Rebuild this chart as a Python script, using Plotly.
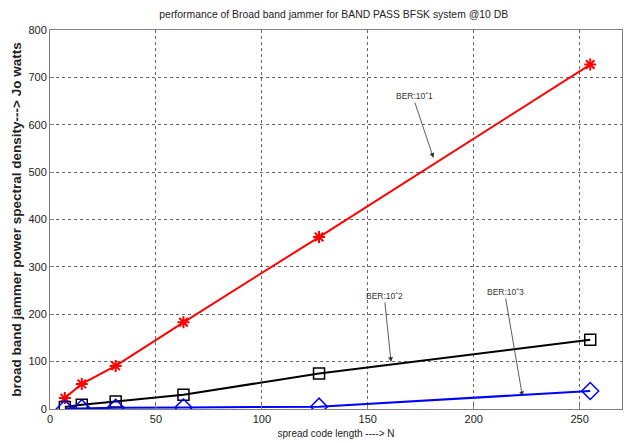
import plotly.graph_objects as go

code_len = [7, 15, 31, 63, 127, 255]
ber_1e1 = [23, 53, 91, 183, 363, 727]
ber_1e2 = [4, 9, 16, 30, 75, 146]
ber_1e3 = [0.7, 1.5, 2.5, 3, 5, 38]

FONT = "Liberation Sans, Arial, sans-serif"

fig = go.Figure()
fig.add_trace(go.Scatter(x=code_len, y=ber_1e1, mode="lines+markers",
                         line=dict(color="#ff0000", width=2),
                         marker=dict(symbol="asterisk-open", size=10,
                                     line=dict(color="#ff0000", width=2))))
fig.add_trace(go.Scatter(x=code_len, y=ber_1e2, mode="lines+markers",
                         line=dict(color="#000000", width=2),
                         marker=dict(symbol="square-open", size=11, color="#000000",
                                     line=dict(color="#000000", width=1.5))))
fig.add_trace(go.Scatter(x=code_len, y=ber_1e3, mode="lines+markers",
                         line=dict(color="#0000ff", width=2),
                         marker=dict(symbol="diamond-open", size=13, color="#0000ff",
                                     line=dict(color="#0000ff", width=1.5))))

ann = [("BER:10ˆ1", 172, 650, 181, 530),
       ("BER:10ˆ2", 158, 228, 161, 99),
       ("BER:10ˆ3", 215, 236, 223, 27)]
for txt, tx, ty, hx, hy in ann:
    fig.add_annotation(x=hx, y=hy, ax=tx, ay=ty, axref="x", ayref="y",
                       xref="x", yref="y", text="", showarrow=True,
                       arrowhead=2, arrowsize=1.2, arrowwidth=0.8, arrowcolor="#333333")
    fig.add_annotation(x=tx, y=ty, xref="x", yref="y", text=txt, showarrow=False,
                       font=dict(size=8.5, color="#333333", family=FONT),
                       yanchor="bottom", yshift=-2)

fig.update_layout(
    width=624, height=435,
    margin=dict(l=42, r=10, t=22, b=34),
    paper_bgcolor="white", plot_bgcolor="white",
    showlegend=False,
    font=dict(family=FONT, size=11, color="#222222"),
    title=dict(text="performance of Broad band jammer for BAND PASS BFSK system @10 DB",
               x=0.522, xanchor="center", y=0.985, yanchor="middle",
               font=dict(size=10.4, family=FONT, color="#222222")),
)
fig.update_xaxes(range=[0, 270], tickvals=[0, 50, 100, 150, 200, 250],
                 showgrid=True, gridcolor="#666666", griddash="dot", gridwidth=1,
                 showline=True, linecolor="#808080", linewidth=1, mirror=True,
                 ticks="inside", ticklen=4, tickcolor="#808080", zeroline=False,
                 automargin=False,
                 tickfont=dict(size=11, family=FONT),
                 title=dict(text="spread code length ----> N", standoff=5,
                            font=dict(size=10, family=FONT)))
fig.update_yaxes(range=[0, 800], tickvals=list(range(0, 801, 100)),
                 showgrid=True, gridcolor="#666666", griddash="dot", gridwidth=1,
                 showline=True, linecolor="#808080", linewidth=1, mirror=True,
                 ticks="inside", ticklen=4, tickcolor="#808080", zeroline=False,
                 automargin=False,
                 tickfont=dict(size=11, family=FONT),
                 title=dict(text="<b>broad band jammer power spectral density---> Jo watts</b>",
                            standoff=3, font=dict(size=13.5, family=FONT)))

fig.write_html("out.html")
